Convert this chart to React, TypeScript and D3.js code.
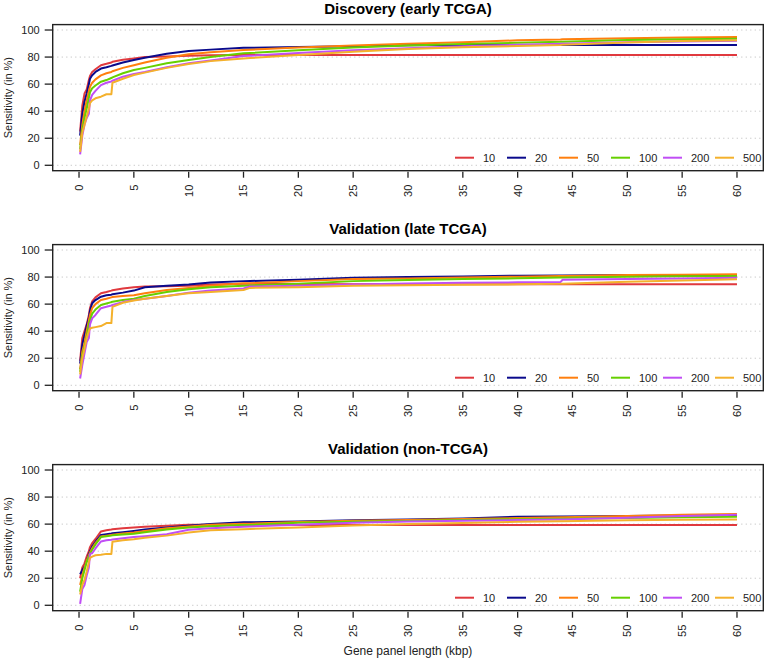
import React from "react";
import * as d3 from "d3";

// Gene panel length grid (kbp) shared by all series
const kbp = [0.1, 0.3, 0.5, 0.7, 0.9, 1.0, 1.2, 1.5, 2, 2.5, 2.95, 3.05, 4, 5, 6, 8, 10, 12, 15, 15.6, 20, 25, 30, 35, 40, 43.9, 44.1, 50, 55, 60];

const seriesNames = ["10", "20", "50", "100", "200", "500"];
const seriesColors = ["#E0393E", "#0A0A8C", "#FF7F0E", "#66D000", "#C04EF5", "#F4B12C"];

// Discovery (early TCGA)
const disc10 = [25, 44, 53, 56, 63, 66, 69, 71, 74, 75, 76, 76.5, 78, 79, 80, 80.5, 81, 81.3, 81.5, 81.5, 81.5, 81.5, 81.5, 81.5, 81.5, 81.5, 81.5, 81.5, 81.5, 81.5];
const disc20 = [22, 38, 47, 53, 60, 64, 66.5, 69, 71.5, 72.5, 73.5, 73.8, 76, 77.8, 79.5, 82.5, 84.5, 85.5, 86.8, 86.9, 87.5, 88, 88.7, 89, 89, 89, 89, 89, 89, 89];
const disc50 = [15, 30, 40, 48, 55, 58, 61, 63.5, 66.5, 68, 69, 69.5, 72, 74, 76, 79.5, 82, 83.5, 85.2, 85.4, 87, 88.5, 89.8, 91, 92.4, 93, 93.1, 94, 94.5, 94.8];
const disc100 = [12, 26, 35, 42, 50, 54, 57, 59, 61.8, 63, 64.5, 65, 68, 70.4, 72, 75.5, 77.8, 80, 82.8, 83, 85, 87, 88.5, 89.6, 90.6, 91.3, 91.4, 92.6, 93.2, 93.6];
const disc200 = [8, 22, 30, 35, 38, 48, 52, 55, 59.3, 61, 62, 62.5, 65.5, 67.5, 69, 72.5, 75.4, 77.5, 80.8, 81, 83, 85, 86.5, 88, 89.1, 89.8, 89.9, 91, 91.5, 92];
const disc500 = [10, 24, 30, 36, 42, 46, 48, 49.5, 50.7, 52.5, 52.5, 61, 64, 66.7, 68.5, 72, 74.9, 77, 79, 79.3, 81.5, 84, 86, 87.3, 88.2, 89, 89.1, 90.8, 91.8, 92.4];

// Validation (late TCGA)
const late10 = [18, 35, 40, 45, 52, 57, 62, 65, 68, 69, 70, 70.3, 71.5, 72.4, 73, 73.3, 73.6, 74.5, 75, 75, 74.8, 74.6, 74.6, 74.6, 74.6, 74.6, 74.6, 74.6, 74.6, 74.6];
const late20 = [16, 30, 37, 44, 50, 55, 60.6, 63, 65.5, 66.5, 67, 67.3, 68.5, 70, 72.5, 73.5, 74.5, 76, 77, 77.1, 78, 79.5, 80, 80.5, 81, 81.2, 81.2, 81.5, 81.5, 81.5];
const late50 = [12, 25, 31, 40, 48, 52, 57, 60, 63, 64, 65, 65.2, 66, 66.5, 68, 70.5, 72, 73.5, 75.4, 75.5, 77, 78.5, 79, 79.7, 80.3, 80.8, 80.8, 81.5, 81.8, 82];
const late100 = [10, 22, 28.5, 36, 45, 48, 53, 56, 59.4, 60.5, 61.5, 61.7, 63, 64, 66, 69, 71, 72.5, 73.6, 73.8, 75, 77, 77.8, 78.5, 79.1, 79.6, 79.6, 80.3, 80.6, 80.8];
const late200 = [5, 15, 23.6, 32, 35, 45, 49.5, 52, 57, 58, 59, 59.3, 61.5, 63, 64, 66, 68.5, 70, 71.5, 73, 73.5, 74.5, 75.3, 75.8, 76.1, 76.3, 78, 78.5, 79, 79.5];
const late500 = [8, 20, 27, 35, 40, 42, 42.5, 43, 43.8, 46, 46, 58, 61, 62.6, 64, 66, 68, 69, 70.4, 72, 72.5, 73.5, 74, 74.3, 74.6, 75, 75.1, 76.5, 77.5, 78.3];

// Validation (non-TCGA)
const non10 = [20, 28, 31, 36, 40, 43, 46, 49, 54.6, 55.5, 56, 56.2, 57, 57.5, 58, 58.8, 59.5, 59.5, 59.4, 59.4, 59.4, 59.4, 59.4, 59.4, 59.4, 59.4, 59.4, 59.4, 59.4, 59.4];
const non20 = [23, 26, 28.6, 33, 38, 40, 43.5, 47, 52, 52.5, 53, 53.2, 54, 55, 56, 57.5, 58.8, 60, 61.3, 61.4, 62, 62.8, 63.5, 64.2, 65.5, 65.7, 65.7, 66, 66.3, 66.5];
const non50 = [15, 22, 28, 33, 37, 39, 42.2, 46, 50.9, 51.5, 52, 52.2, 53, 53.8, 55, 57, 58.3, 59.5, 60.2, 60.3, 61.5, 62.5, 63, 63.8, 64.5, 65, 65, 66, 67, 67.5];
const non100 = [10, 20, 26, 32, 36, 38, 41, 45, 50.4, 51, 51.5, 51.7, 52.3, 52.8, 54, 56, 57.5, 58.5, 59.3, 59.4, 61, 61.8, 62.3, 63, 63.6, 64, 64, 64.6, 65, 65.5];
const non200 = [1, 12, 15, 22, 28, 38, 38.5, 42, 47.2, 48, 48.5, 48.7, 49.5, 50.4, 51, 52.5, 55.8, 57, 58.1, 58.3, 59.5, 61, 62, 62.5, 63, 63.5, 63.5, 64.8, 66, 67];
const non500 = [8, 15, 18.8, 25, 32, 35, 36, 37, 37.3, 38, 38, 47, 48, 48.9, 50, 51.5, 53.8, 55.5, 56.2, 56.4, 57.5, 59, 60, 60.8, 61.8, 62.2, 62.2, 62.8, 63.2, 63.5];

const panelTitles = ["Discovery (early TCGA)", "Validation (late TCGA)", "Validation (non-TCGA)"];
const panelSeries = [
  [disc10, disc20, disc50, disc100, disc200, disc500],
  [late10, late20, late50, late100, late200, late500],
  [non10, non20, non50, non100, non200, non500],
];
const xTicks = [0, 5, 10, 15, 20, 25, 30, 35, 40, 45, 50, 55, 60];
const yTicks = [0, 20, 40, 60, 80, 100];

const FONT = "'Liberation Sans', Arial, Helvetica, sans-serif";

const W = 767;
const H = 663;
const left = 52.7;
const right = 763.3;
const panelTop = 24.6;
const panelH = 146.1;
const panelStep = 220;

export default function App() {
  const x = d3.scaleLinear().domain([-2.4, 62.4]).range([left, right]);
  return (
    <svg width={W} height={H} style={{ position: "absolute", left: 0, top: 0, background: "#fff" }} fontFamily={FONT}>
      <rect x={0} y={0} width={W} height={H} fill="#fff" />
      {panelTitles.map((title, p) => {
        const top = panelTop + p * panelStep;
        const bottom = top + panelH;
        const y = d3.scaleLinear().domain([-4, 104]).range([bottom, top]);
        const line = d3
          .line<number>()
          .x((_, i) => x(kbp[i]))
          .y((v) => y(v));
        const cy = (top + bottom) / 2;
        const legY = bottom - 13;
        return (
          <g key={p}>
            <text x={(left + right) / 2} y={top - 11} textAnchor="middle" fontWeight="bold" fontSize={15} fill="#000">
              {title}
            </text>
            {yTicks.map((t) => (
              <line key={"g" + t} x1={left} x2={right} y1={y(t)} y2={y(t)} stroke="#c4c4c4" strokeWidth={1} strokeDasharray="1.2 3.3" />
            ))}
            {panelSeries[p].map((vals, s) => (
              <path key={s} d={line(vals) || ""} fill="none" stroke={seriesColors[s]} strokeWidth={2} strokeLinejoin="round" />
            ))}
            <rect x={left} y={top} width={right - left} height={panelH} fill="none" stroke="#222" strokeWidth={1.4} />
            {yTicks.map((t) => (
              <g key={"y" + t}>
                <line x1={left - 8} x2={left} y1={y(t)} y2={y(t)} stroke="#222" strokeWidth={1.3} />
                <text x={left - 13} y={y(t)} dy="0.35em" textAnchor="end" fontSize={11} fill="#222">
                  {t}
                </text>
              </g>
            ))}
            {xTicks.map((t) => (
              <g key={"x" + t}>
                <line x1={x(t)} x2={x(t)} y1={bottom + 1} y2={bottom + 7} stroke="#222" strokeWidth={1.3} />
                <text
                  transform={`translate(${x(t)},${bottom + 14}) rotate(-90)`}
                  dy="0.35em"
                  textAnchor="end"
                  fontSize={11}
                  fill="#222"
                >
                  {t}
                </text>
              </g>
            ))}
            <text transform={`translate(12,${cy}) rotate(-90)`} textAnchor="middle" fontSize={11} fill="#222">
              Sensitivity (in %)
            </text>
            {seriesNames.map((name, s) => {
              const lx = 455 + s * 52;
              return (
                <g key={"l" + s}>
                  <line x1={lx} x2={lx + 19} y1={legY} y2={legY} stroke={seriesColors[s]} strokeWidth={2} />
                  <text x={lx + 28} y={legY} dy="0.35em" fontSize={11} fill="#222">
                    {name}
                  </text>
                </g>
              );
            })}
          </g>
        );
      })}
      <text x={(left + right) / 2} y={655} textAnchor="middle" fontSize={12} fill="#222">
        Gene panel length (kbp)
      </text>
    </svg>
  );
}
